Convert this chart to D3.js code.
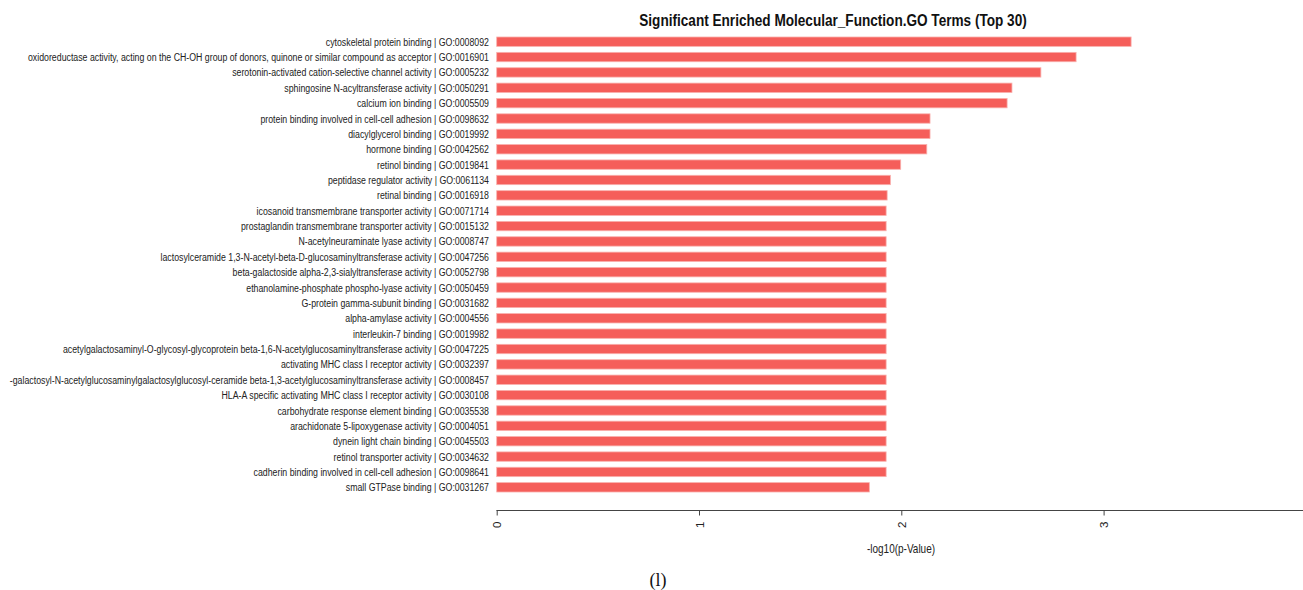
<!DOCTYPE html>
<html>
<head>
<meta charset="utf-8">
<script src="https://cdn.jsdelivr.net/npm/d3@7"></script>
<style>
  html, body { margin: 0; padding: 0; background: #fff; }
  svg { display: block; }
</style>
</head>
<body>
<svg id="chart" width="1303" height="590"></svg>
<script>
const terms = [
  "cytoskeletal protein binding | GO:0008092",
  "oxidoreductase activity, acting on the CH-OH group of donors, quinone or similar compound as acceptor | GO:0016901",
  "serotonin-activated cation-selective channel activity | GO:0005232",
  "sphingosine N-acyltransferase activity | GO:0050291",
  "calcium ion binding | GO:0005509",
  "protein binding involved in cell-cell adhesion | GO:0098632",
  "diacylglycerol binding | GO:0019992",
  "hormone binding | GO:0042562",
  "retinol binding | GO:0019841",
  "peptidase regulator activity | GO:0061134",
  "retinal binding | GO:0016918",
  "icosanoid transmembrane transporter activity | GO:0071714",
  "prostaglandin transmembrane transporter activity | GO:0015132",
  "N-acetylneuraminate lyase activity | GO:0008747",
  "lactosylceramide 1,3-N-acetyl-beta-D-glucosaminyltransferase activity | GO:0047256",
  "beta-galactoside alpha-2,3-sialyltransferase activity | GO:0052798",
  "ethanolamine-phosphate phospho-lyase activity | GO:0050459",
  "G-protein gamma-subunit binding | GO:0031682",
  "alpha-amylase activity | GO:0004556",
  "interleukin-7 binding | GO:0019982",
  "acetylgalactosaminyl-O-glycosyl-glycoprotein beta-1,6-N-acetylglucosaminyltransferase activity | GO:0047225",
  "activating MHC class I receptor activity | GO:0032397",
  "-galactosyl-N-acetylglucosaminylgalactosylglucosyl-ceramide beta-1,3-acetylglucosaminyltransferase activity | GO:0008457",
  "HLA-A specific activating MHC class I receptor activity | GO:0030108",
  "carbohydrate response element binding | GO:0035538",
  "arachidonate 5-lipoxygenase activity | GO:0004051",
  "dynein light chain binding | GO:0045503",
  "retinol transporter activity | GO:0034632",
  "cadherin binding involved in cell-cell adhesion | GO:0098641",
  "small GTPase binding | GO:0031267"
];
const values = [
  3.136, 2.864, 2.69, 2.547, 2.523, 2.142, 2.142, 2.126, 1.997, 1.946,
  1.93, 1.925, 1.925, 1.925, 1.925, 1.925, 1.925, 1.925, 1.925, 1.925,
  1.925, 1.925, 1.925, 1.925, 1.925, 1.925, 1.925, 1.925, 1.925, 1.842
];
const xTicks = [0, 1, 2, 3];
const titleText = "Significant Enriched Molecular_Function.GO Terms (Top 30)";
const xTitle = "-log10(p-Value)";
const panelLabel = "(l)";

const svg = d3.select("#chart");
const sans = "'Liberation Sans', Arial, Helvetica, sans-serif";

const x = d3.scaleLinear().domain([0, 4]).range([496.7, 1305.9]);
const y = d3.scaleBand().domain(terms).range([34, 495]).paddingInner(0.39).paddingOuter(0.195);

// bars
svg.append("g").selectAll("rect").data(terms).join("rect")
  .attr("x", x(0))
  .attr("y", d => y(d))
  .attr("width", (d, i) => x(values[i]) - x(0))
  .attr("height", y.bandwidth())
  .attr("fill", "#F55E5A")
  .attr("stroke", "#F9B0AD")
  .attr("stroke-width", 0.8);

// category labels (condensed horizontally like the reference font)
svg.append("g").selectAll("text").data(terms).join("text")
  .attr("transform", d => `translate(489,${y(d) + y.bandwidth() / 2}) scale(0.764,1)`)
  .attr("x", 0)
  .attr("y", 0)
  .attr("dy", "0.35em")
  .attr("text-anchor", "end")
  .attr("font-family", sans)
  .attr("font-size", 11.5)
  .attr("fill", "#222")
  .text(d => d);

// x axis
const axisG = svg.append("g").attr("transform", "translate(0,510.5)")
  .call(d3.axisBottom(x).tickValues(xTicks).tickSize(5).tickSizeOuter(0).tickFormat(d3.format("d")));
axisG.select(".domain").attr("stroke", "#444").attr("d", `M${x(0)},0.5V0H${x(4)}`);
axisG.selectAll(".tick line").attr("stroke", "#444");
axisG.selectAll(".tick text")
  .attr("font-family", sans)
  .attr("font-size", 11.5)
  .attr("fill", "#222")
  .attr("transform", "rotate(-90)")
  .attr("x", -11)
  .attr("y", 0)
  .attr("dy", "0.35em")
  .attr("text-anchor", "end");

// title
svg.append("text")
  .attr("transform", "translate(833,26) scale(0.8,1)")
  .attr("text-anchor", "middle")
  .attr("font-family", sans)
  .attr("font-weight", "bold")
  .attr("font-size", 17)
  .attr("fill", "#111")
  .text(titleText);

// x title
svg.append("text")
  .attr("transform", "translate(901,553) scale(0.8,1)")
  .attr("text-anchor", "middle")
  .attr("font-family", sans)
  .attr("font-size", 12.5)
  .attr("fill", "#222")
  .text(xTitle);

// panel label
svg.append("text")
  .attr("x", 658).attr("y", 586)
  .attr("text-anchor", "middle")
  .attr("font-family", "'Liberation Serif', 'Times New Roman', serif")
  .attr("font-size", 18)
  .attr("fill", "#111")
  .text(panelLabel);
</script>
</body>
</html>
